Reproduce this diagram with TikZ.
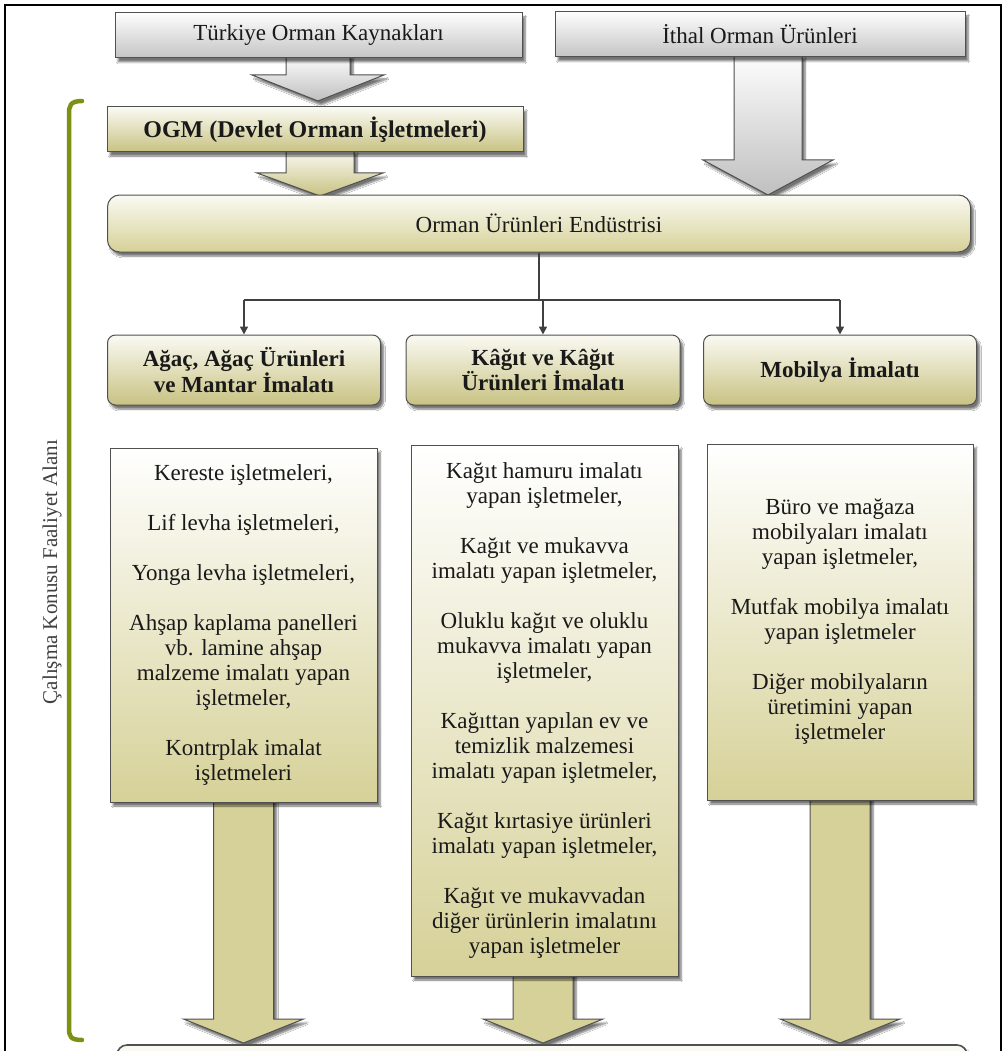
\documentclass[tikz,border=0pt]{standalone}
\usepackage{fontspec}
\setmainfont{Liberation Serif}
\usetikzlibrary{shadows.blur,backgrounds,calc,arrows.meta}
\definecolor{olv}{RGB}{214,209,152}
\definecolor{olvdark}{RGB}{200,194,130}
\definecolor{olvtop}{RGB}{250,250,243}
\definecolor{brk}{RGB}{122,145,22}
\definecolor{edge}{RGB}{80,80,80}
\definecolor{gtop}{RGB}{253,253,253}
\definecolor{gbot}{RGB}{196,196,196}
\newcommand{\blockarr}[7]{\path[#7] ({#1-#5},#2) -- ({#1+#5},#2) -- ({#1+#5},#3) -- ({#1+#6},#3) -- (#1,#4) -- ({#1-#6},#3) -- ({#1-#5},#3) -- cycle;}
\begin{document}
\begin{tikzpicture}[x=1pt,y=-1pt,
  txt/.style={font=\fontsize{23}{25}\selectfont, align=center, text=black!90, inner sep=0pt},
  shad/.style={blur shadow={shadow xshift=3pt,shadow yshift=-4pt,shadow blur steps=6,shadow opacity=55}},
  graybox/.style={txt, draw=edge, line width=1pt, top color=gtop, bottom color=gbot, shad},
  ogmbox/.style={txt, draw=edge, line width=1pt, top color=olvtop, bottom color=olvdark, shad, font=\fontsize{24}{24}\selectfont\bfseries},
  indbox/.style={txt, draw=edge, line width=1pt, top color=olvtop, bottom color=olv, shad, rounded corners=12pt},
  catbox/.style={txt, draw=edge, line width=1pt, top color=olvtop, bottom color=olvdark, shad, rounded corners=8pt, font=\fontsize{23}{23}\selectfont\bfseries},
  detbox/.style={txt, draw=edge, line width=1pt, top color=white, bottom color=olv, shad},
  grayarr/.style={draw=edge, line width=1pt, top color=gtop, bottom color=gray!50, shad},
  olivearr/.style={draw=edge, line width=1pt, top color=olvtop, bottom color=olvdark, shad},
  detarr/.style={draw=edge, line width=1pt, fill=olv, shad},
  conn/.style={draw=black!75, line width=1.6pt},
  connarr/.style={conn, -{Triangle[length=8pt,width=8pt]}}
]
\useasboundingbox (0,0) rectangle (1005,1051);
% frame
\draw[line width=1.6pt] (5,1051) -- (5,5) -- (1001,5) -- (1001,1051);

% top boxes
\node[graybox, minimum width=407, minimum height=45] (tr) at (318.5,35.5) {Türkiye Orman Kaynakları};
\node[graybox, minimum width=410, minimum height=45] (it) at (760,34.5) {İthal Orman Ürünleri};
\node[ogmbox, minimum width=416, minimum height=45] (ogm) at (315,129.5) {OGM (Devlet Orman İşletmeleri)};
\node[indbox, minimum width=863, minimum height=57] (oue) at (539,223.5) {Orman Ürünleri Endüstrisi};

% categories
\node[catbox, minimum width=273, minimum height=70] (c1) at (244,370) {Ağaç, Ağaç Ürünleri\\ve Mantar İmalatı};
\node[catbox, minimum width=274, minimum height=70] (c2) at (543,370) {Kâğıt ve Kâğıt\\Ürünleri İmalatı};
\node[catbox, minimum width=273, minimum height=70] (c3) at (840,370) {Mobilya İmalatı};

% detail boxes
\node[detbox, minimum width=267, minimum height=354] (d1) at (243.5,625) {Kereste işletmeleri,\\[25pt]Lif levha işletmeleri,\\[25pt]Yonga levha işletmeleri,\\[25pt]Ahşap kaplama panelleri\\vb. lamine ahşap\\malzeme imalatı yapan\\işletmeler,\\[25pt]Kontrplak imalat\\işletmeleri};
\node[detbox, minimum width=267, minimum height=531] (d2) at (544.5,710.5) {Kağıt hamuru imalatı\\yapan işletmeler,\\[25pt]Kağıt ve mukavva\\imalatı yapan işletmeler,\\[25pt]Oluklu kağıt ve oluklu\\mukavva imalatı yapan\\işletmeler,\\[25pt]Kağıttan yapılan ev ve\\temizlik malzemesi\\imalatı yapan işletmeler,\\[25pt]Kağıt kırtasiye ürünleri\\imalatı yapan işletmeler,\\[25pt]Kağıt ve mukavvadan\\diğer ürünlerin imalatını\\yapan işletmeler};
\node[detbox, minimum width=266, minimum height=356] (d3) at (840,622) {Büro ve mağaza\\mobilyaları imalatı\\yapan işletmeler,\\[25pt]Mutfak mobilya imalatı\\yapan işletmeler\\[25pt]Diğer mobilyaların\\üretimini yapan\\işletmeler};

% bottom (cut) box
\begin{scope}
\clip (0,0) rectangle (1005,1051);
\node[draw=edge, line width=1.6pt, fill=olvtop, rounded corners=10pt, minimum width=850, minimum height=60, shad] (bot) at (542,1075) {};
\end{scope}

% white paper and block arrows behind boxes
\begin{scope}[on background layer]
\fill[white] (0,0) rectangle (1005,1051);
\blockarr{318}{55}{75}{101}{32}{66}{grayarr}
\blockarr{768}{55}{160}{195}{34}{65}{grayarr}
\blockarr{320}{150}{173}{196}{34}{63}{olivearr}
\blockarr{243.5}{795}{1019}{1043}{30}{60}{detarr}
\blockarr{543}{970}{1019}{1043}{30}{60}{detarr}
\blockarr{840}{795}{1019}{1043}{30}{60}{detarr}
\end{scope}

% tree connectors
\coordinate (jy) at (0,300);
\draw[conn] (oue.south) -- (oue.south |- jy);
\draw[conn] (c1.north |- jy) -- (c3.north |- jy);
\draw[connarr] (c1.north |- jy) -- (c1.north);
\draw[connarr] (c2.north |- jy) -- (c2.north);
\draw[connarr] (c3.north |- jy) -- (c3.north);

% bracket and label
\draw[brk, line width=4.5pt, line cap=round] (82,101) .. controls (70,101) and (69,106) .. (69,114) -- (69,1028) .. controls (69,1036) and (70,1040) .. (82,1040);
\node[font=\fontsize{21}{21}\selectfont, text=black!75, rotate=90, inner sep=0pt] (lbl) at (52,572) {Çalışma Konusu Faaliyet Alanı};
\end{tikzpicture}
\end{document}
